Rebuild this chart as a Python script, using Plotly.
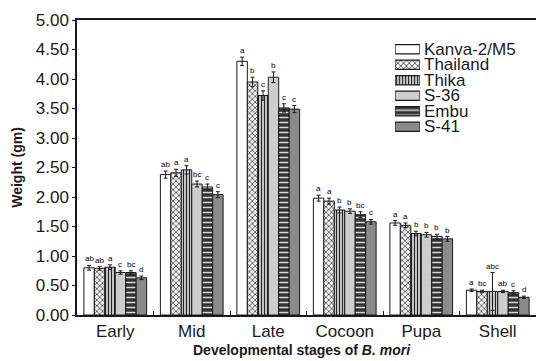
import plotly.graph_objects as go

# Developmental stages (x categories) and silkworm strains (series)
stages = ["Early", "Mid", "Late", "Cocoon", "Pupa", "Shell"]
strains = ["Kanva-2/M5", "Thailand", "Thika", "S-36", "Embu", "S-41"]

# Mean weight (gm) per strain, one value per stage
kanva = [0.80, 2.38, 4.30, 1.98, 1.56, 0.42]
thailand = [0.79, 2.41, 3.95, 1.93, 1.52, 0.40]
thika = [0.81, 2.46, 3.72, 1.78, 1.38, 0.40]
s36 = [0.72, 2.22, 4.03, 1.76, 1.36, 0.40]
embu = [0.72, 2.17, 3.51, 1.70, 1.33, 0.38]
s41 = [0.63, 2.04, 3.49, 1.58, 1.29, 0.30]

# Standard errors
kanva_err = [0.04, 0.06, 0.07, 0.05, 0.04, 0.02]
thailand_err = [0.03, 0.06, 0.08, 0.05, 0.04, 0.02]
thika_err = [0.04, 0.07, 0.08, 0.05, 0.04, 0.32]
s36_err = [0.03, 0.05, 0.09, 0.04, 0.04, 0.02]
embu_err = [0.03, 0.05, 0.07, 0.05, 0.04, 0.03]
s41_err = [0.03, 0.05, 0.06, 0.04, 0.04, 0.02]

# Significance letters
kanva_sig = ["ab", "ab", "a", "a", "a", "a"]
thailand_sig = ["ab", "a", "b", "a", "a", "bc"]
thika_sig = ["a", "a", "c", "b", "b", "abc"]
s36_sig = ["c", "bc", "b", "b", "b", "ab"]
embu_sig = ["bc", "c", "c", "bc", "b", "c"]
s41_sig = ["d", "c", "c", "c", "b", "d"]

values = [kanva, thailand, thika, s36, embu, s41]
errors = [kanva_err, thailand_err, thika_err, s36_err, embu_err, s41_err]
letters = [kanva_sig, thailand_sig, thika_sig, s36_sig, embu_sig, s41_sig]

styles = [
    dict(color="white"),
    dict(color="white", pattern=dict(shape="x", bgcolor="#f2f2f2", fgcolor="#444",
                                     size=4, solidity=0.35, fillmode="replace")),
    dict(color="white", pattern=dict(shape="|", bgcolor="#e6e6e6", fgcolor="#222",
                                     size=3, solidity=0.45, fillmode="replace")),
    dict(color="#cdcdcd"),
    dict(color="#333", pattern=dict(shape="-", bgcolor="#333", fgcolor="#d8d8d8",
                                    size=5, solidity=0.3, fillmode="replace")),
    dict(color="#8a8a8a"),
]

BARGAP = 0.18
n = len(strains)
w = (1 - BARGAP) / n
ink = "#1a1a1a"

fig = go.Figure()
annotations = []

for i, name in enumerate(strains):
    fig.add_trace(go.Bar(
        x=stages, y=values[i], name=name, showlegend=False,
        marker=dict(**styles[i], line=dict(color=ink, width=1)),
        error_y=dict(type="data", array=errors[i], color=ink, thickness=1, width=2),
    ))
    for g in range(len(stages)):
        annotations.append(dict(
            x=g + (i - (n - 1) / 2) * w, y=values[i][g] + errors[i][g],
            xref="x", yref="y", text=letters[i][g], showarrow=False,
            yanchor="bottom", yshift=0, font=dict(size=8, color="black"),
        ))

# Legend swatches drawn as small bars on their own axes
for i, name in enumerate(strains):
    fig.add_trace(go.Bar(
        x=[1], y=[name], orientation="h", xaxis="x2", yaxis="y2",
        offsetgroup="legend", width=0.6, showlegend=False, hoverinfo="skip",
        marker=dict(**styles[i], line=dict(color=ink, width=1.2)),
    ))
    annotations.append(dict(
        x=0.752, y=name, xref="paper", yref="y2", text=name, showarrow=False,
        xanchor="left", yanchor="middle",
        font=dict(size=17, color=ink),
    ))

annotations.append(dict(
    x=0.49, y=-0.119, xref="paper", yref="paper", yanchor="middle",
    text="<b>Developmental stages of <i>B. mori</i></b>", showarrow=False,
    font=dict(size=14, color=ink),
))

font_family = "Liberation Sans, Arial, sans-serif"

fig.update_layout(
    width=536, height=361,
    margin=dict(l=77, r=0, t=20, b=46),
    paper_bgcolor="white", plot_bgcolor="white",
    barmode="group", bargap=BARGAP, bargroupgap=0,
    font=dict(family=font_family, color=ink),
    showlegend=False,
    annotations=annotations,
    xaxis=dict(
        type="category", showline=True, linecolor=ink, linewidth=1.5, mirror=True,
        ticks="inside", tickson="boundaries", ticklen=4, tickcolor=ink,
        showgrid=False, tickfont=dict(size=17, color=ink),
    ),
    yaxis=dict(
        range=[0, 5], dtick=0.5, tickformat=".2f", showline=True, linecolor=ink,
        linewidth=1.5, ticks="outside", ticklen=3, tickcolor=ink, showgrid=False,
        zeroline=False, tickfont=dict(size=17, color=ink),
        title=dict(text="<b>Weight (gm)</b>", font=dict(size=14, color=ink), standoff=10),
    ),
    xaxis2=dict(domain=[0.693, 0.747], range=[0, 1], anchor="y2", visible=False,
                fixedrange=True),
    yaxis2=dict(domain=[0.599, 0.94], anchor="x2", visible=False,
                autorange="reversed", type="category", fixedrange=True),
)

fig.write_html("out.html")
